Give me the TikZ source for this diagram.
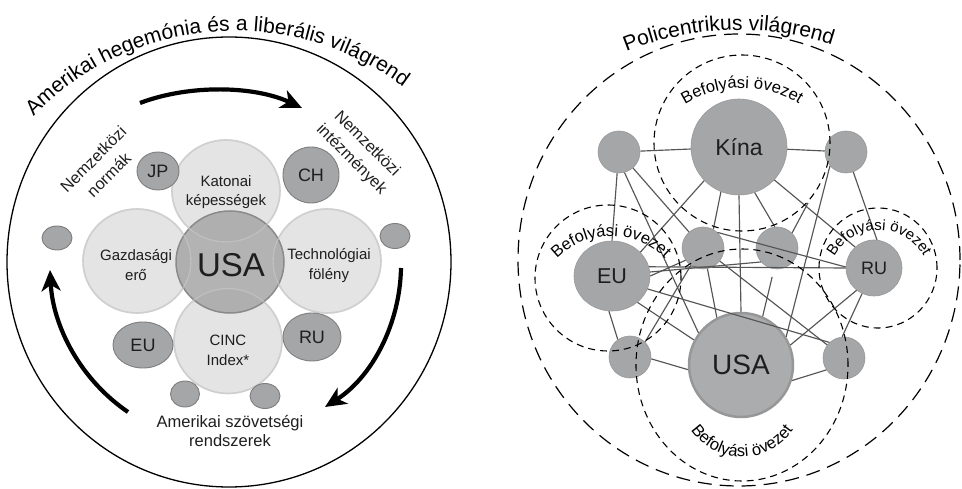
\documentclass[tikz,border=0pt]{standalone}
\usepackage{fontspec}
\setmainfont{Liberation Sans}
\usetikzlibrary{shapes.geometric,arrows.meta,decorations.text}
\definecolor{lightc}{HTML}{E4E4E4}
\definecolor{lightb}{HTML}{CFCFCF}
\definecolor{darkc}{HTML}{A5A6A8}
\definecolor{darkb}{HTML}{7E7E7E}
\definecolor{usac}{HTML}{A6A6A6}
\definecolor{usab}{HTML}{8A8A8A}
\definecolor{rusac}{HTML}{ABACAE}
\definecolor{rusab}{HTML}{979797}
\definecolor{lnc}{HTML}{555555}
\definecolor{txt}{HTML}{1E1E1E}
\newcommand\titlefont{\fontsize{21}{24}\selectfont}
\newcommand\befont{\fontsize{16.5}{18}\selectfont}
\newcommand\berufont{\fontsize{15}{17}\selectfont}
\begin{document}
\begin{tikzpicture}[x=1pt,y=1pt,
  lightcirc/.style={ellipse, fill=lightc, draw=lightb, line width=1.6pt, inner sep=0pt, minimum width=108pt, minimum height=104pt},
  lightline/.style={ellipse, draw=lightb, draw opacity=0.55, line width=1.4pt, inner sep=0pt, minimum width=108pt, minimum height=104pt},
  darknode/.style={ellipse, fill=darkc, draw=darkb, line width=0.9pt, inner sep=0pt, text=txt, font=\fontsize{18}{20}\selectfont},
  lbl/.style={align=center, text=txt, inner sep=0pt, font=\fontsize{15}{19.5}\selectfont},
  sidelbl/.style={align=center, text=txt, inner sep=0pt, font=\fontsize{16.3}{22}\selectfont},
  bigarrow/.style={line width=4.2pt, -{Stealth[length=21pt,width=19pt,inset=6pt]}},
  rnode/.style={circle, fill=darkc, draw=darkb!80, line width=0.6pt, inner sep=0pt, minimum size=42pt, text=txt},
  lnk/.style={draw=lnc, line width=1.15pt},
  outerdash/.style={ellipse, draw=black, line width=1.2pt, dash pattern=on 14pt off 8pt, inner sep=0pt},
  zonedash/.style={ellipse, draw=black, line width=1.1pt, dash pattern=on 7pt off 5pt, inner sep=0pt}
]
\useasboundingbox (0,0) rectangle (962,488);

% ================= LEFT DIAGRAM =================
\node[ellipse, draw=black, line width=1.3pt, inner sep=0pt, minimum width=444pt, minimum height=450pt] (outerL) at (229,226) {};

\path[decorate, decoration={text along path, text align=center,
  text={|\titlefont|Amerikai hegemónia és a liberális világrend}}]
  ([shift={(235,176)}]144.5:281) arc[start angle=144.5, end angle=44.5, radius=281];

% light circles
\node[lightcirc, minimum height=102pt] (Kat) at (226,297) {};
\node[lightcirc] (Gaz) at (137,227) {};
\node[lightcirc] (Tech) at (327,227) {};
\node[lightcirc, minimum height=105pt] (CINC) at (228,147) {};
% USA
\node[ellipse, fill=usac, fill opacity=0.85, draw=usab, line width=1.5pt, inner sep=0pt, minimum width=108pt, minimum height=102pt] (USAl) at (230,226) {};
\node[lightline, minimum height=102pt] (KatL) at (226,297) {};
\node[lightline] (GazL) at (137,227) {};
\node[lightline] (TechL) at (327,227) {};
\node[lightline, minimum height=105pt] (CINCL) at (228,147) {};

\node[text=txt, inner sep=0pt, font=\fontsize{33}{36}\selectfont] (tUSAl) at (231,223) {USA};
\node[lbl] (tKat) at (226,296) {Katonai\\képességek};
\node[lbl] (tGaz) at (136,223) {Gazdasági\\erő};
\node[lbl] (tTech) at (329,222.5) {Technológiai\\fölény};
\node[lbl] (tCINC) at (228,137.5) {CINC\\Index*};

% dark nodes
\node[darknode, minimum width=42pt, minimum height=38pt] (JP) at (158,317) {JP};
\node[darknode, minimum width=56pt, minimum height=56pt] (CH) at (311,313) {CH};
\node[darknode, minimum width=60pt, minimum height=46pt] (EUl) at (143,143) {EU};
\node[darknode, minimum width=58pt, minimum height=48pt] (RUl) at (312,151) {RU};
\node[darknode, minimum width=30pt, minimum height=24pt] (s1) at (57,250) {};
\node[darknode, minimum width=30pt, minimum height=25pt] (s2) at (395,252) {};
\node[darknode, minimum width=29pt, minimum height=26pt] (s3) at (185,94) {};
\node[darknode, minimum width=30pt, minimum height=25pt] (s4) at (265,92) {};

% side labels
\node[sidelbl, rotate=45] (tNorm) at (101,321) {Nemzetközi\\normák};
\node[sidelbl, rotate=-45] (tInt) at (359,336) {Nemzetközi\\intézmények};
\node[align=center, text=txt, inner sep=0pt, font=\fontsize{16.5}{18.5}\selectfont] (tSzov) at (230,57) {Amerikai szövetségi\\rendszerek};

% arrows
\coordinate (a1s) at (140,385);
\coordinate (a1e) at (302,380);
\coordinate (a2s) at (401,220);
\coordinate (a2e) at (325,81);
\coordinate (a3s) at (128,76);
\coordinate (a3e) at (50,218);
\draw[bigarrow] (a1s) .. controls (190,404) and (255,402) .. (a1e);
\draw[bigarrow] (a2s) .. controls (400,164) and (372,111) .. (a2e);
\draw[bigarrow] (a3s) .. controls (81,108) and (53,161) .. (a3e);

% ================= RIGHT DIAGRAM =================
\coordinate (stub) at (808,285);
\node[rnode, minimum size=96pt, font=\fontsize{23}{26}\selectfont] (K) at (739,341) {Kína};
\node[rnode] (A) at (619,336) {};
\node[rnode] (B) at (846,336) {};
\node[rnode] (C) at (703,240) {};
\node[rnode] (D) at (777,240) {};
\node[rnode, ellipse, minimum width=76pt, minimum height=70pt, font=\fontsize{21.5}{24}\selectfont] (EUr) at (612,212) {EU};
\node[rnode, minimum size=56pt, font=\fontsize{18}{20}\selectfont] (RUr) at (874,220) {RU};
\node[rnode] (E) at (630,131) {};
\node[rnode] (F) at (844,130) {};
\node[circle, fill=rusac, draw=rusab, line width=2.5pt, inner sep=0pt, minimum size=104pt, text=txt, font=\fontsize{28}{30}\selectfont] (USAr) at (741,123) {USA};

% connectors
\draw[lnk] (A) -- (K);
\draw[lnk] (K) -- (B);
\draw[lnk] (A.265) -- (EUr.90);
\draw[lnk] (A) -- (C);
\draw[lnk] (A.285) -- (USAr.143);
\draw[lnk] (K.224) -- (EUr.40);
\draw[lnk] (K.248) -- (C.61);
\draw[lnk] (K.south) -- (USAr.north);
\draw[lnk] (K.289) -- (D.96);
\draw[lnk] (K.317) -- (RUr.132);
\draw[lnk] (D.45) -- (stub);
\draw[lnk] (B.221) -- (USAr.32);
\draw[lnk] (B.290) -- (RUr.84);
\draw[lnk] (C.47) -- (RUr.178);
\draw[lnk] (C.282) -- (USAr.117);
\draw[lnk] (C) -- (F);
\draw[lnk] (C.235) -- (E.45);
\draw[lnk] (EUr.14) -- (RUr.180);
\draw[lnk] (EUr.6) -- (D.221);
\draw[lnk] (EUr.0) -- (C.215);
\draw[lnk] (EUr.314) -- (USAr.152);
\draw[lnk] (EUr.340) -- (F.133);
\draw[lnk] (EUr.265) -- (E.125);
\draw[lnk, shorten <=8pt] (D.262) -- (USAr.66);
\draw[lnk] (RUr.232) -- (USAr.22);
\draw[lnk] (RUr.245) -- (F.95);
\draw[lnk] (E.355) -- (USAr.185);
\draw[lnk] (F.214) -- (USAr.343);

% dashed zones
\node[outerdash, minimum width=442pt, minimum height=452pt] (oR) at (739,228) {};
\node[zonedash, minimum width=176pt, minimum height=176pt] (zK) at (742,345) {};
\node[zonedash, minimum width=146pt, minimum height=146pt] (zEU) at (608,210) {};
\node[zonedash, minimum width=118pt, minimum height=120pt] (zRU) at (878,220) {};
\node[zonedash, minimum width=212pt, minimum height=232pt] (zUSA) at (742,123) {};

% curved texts
\path[decorate, decoration={text along path, text align=center,
  text={|\titlefont|Policentrikus világrend}}]
  ([shift={(739,158)}]122:300) arc[start angle=122, end angle=62, radius=300];
\path[decorate, decoration={text along path, text align=center,
  text={|\befont|Befolyási övezet}}]
  ([shift={(742,292)}]135:108) arc[start angle=135, end angle=45, radius=108];
\path[decorate, decoration={text along path, text align=center,
  text={|\befont|Befolyási övezet}}]
  ([shift={(611,176)}]150:76) arc[start angle=150, end angle=30, radius=76];
\path[decorate, decoration={text along path, text align=center,
  text={|\berufont|Befolyási övezet}}]
  ([shift={(879,207)}]170:51) arc[start angle=170, end angle=10, radius=51];
\path[decorate, decoration={text along path, text align=center,
  text={|\befont|Befolyási övezet}}]
  ([shift={(742,93)}]200:62) arc[start angle=200, end angle=340, radius=62];
\end{tikzpicture}
\end{document}
